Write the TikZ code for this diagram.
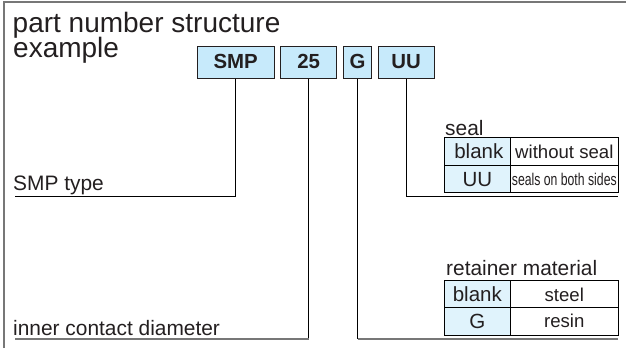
\documentclass[tikz,border=0pt]{standalone}
\usepackage{fontspec}
\usepackage{graphicx}
\setmainfont{Liberation Sans}
\definecolor{ink}{HTML}{231F20}
\definecolor{framegray}{HTML}{777777}
\definecolor{keyblue}{HTML}{C7EAFB}
\definecolor{cellblue}{HTML}{E0F3FC}
\newcommand{\fs}[1]{\fontsize{#1bp}{#1bp}\selectfont}
\tikzset{
  x=1bp,y=-1bp,
  txt/.style={anchor=base west,inner sep=0,text=ink,font=\fs{20.9}},
  keybox/.style={draw=ink,line width=0.8bp,fill=keyblue,inner sep=0,minimum height=31.6bp,text height=11.6bp,text depth=0pt,text=ink,font=\bfseries\fs{20.4}},
  cell/.style={draw=black,line width=0.9bp,inner sep=0,minimum height=27.7bp,text height=14.2bp,text depth=0pt,text=ink,font=\fs{20.5}},
  keycell/.style={cell,fill=cellblue,minimum width=66bp},
  valcell/.style={cell,fill=white,minimum width=108bp,font=\fs{18.6}},
  wire/.style={draw=black,line width=0.9bp},
  baseline wire/.style={draw=framegray,line width=1.5bp},
  frameline/.style={draw=framegray,line width=1.4bp}
}
\begin{document}
\begin{tikzpicture}
\useasboundingbox (0,0) rectangle (626,348);
\coordinate (fa) at (4,348);
\coordinate (fb) at (4,2);
\coordinate (fc) at (626,2);
\draw[frameline] (fa) -- (fb) -- (fc);

\node[txt,font=\fs{28}] (t1) at (12.5,32.5) {part number structure};
\node[txt,font=\fs{28}] (t2) at (13,57) {example};

\node[keybox,minimum width=76.7bp] (smp) at (235.65,62.5) {SMP};
\node[keybox,minimum width=56bp] (n25) at (308.7,62.5) {25};
\node[keybox,minimum width=28.4bp] (g) at (357.5,62.5) {G};
\node[keybox,minimum width=56bp] (uu) at (406,62.5) {UU};

\node[txt] (smptype) at (13,190) {SMP type};
\node[txt] (inner) at (13,335) {inner contact diameter};
\node[txt] (seal) at (445,135) {seal};
\node[txt] (ret) at (446,275) {retainer material};

\node[keycell] (s1) at (477.3,151.2) {\hspace{3bp}blank};
\node[valcell] (s2) at (564.3,151.2) {without seal};
\node[keycell] (s3) at (477.3,178.9) {UU\hspace{3bp}};
\node[valcell,text height=13.2bp,font=\fs{17}] (s4) at (564.3,178.9) {\scalebox{0.72}[1]{seals on both sides}};

\node[keycell] (r1) at (477.3,293.9) {blank};
\node[valcell] (r2) at (564.3,293.9) {steel};
\node[keycell] (r3) at (477.3,321.5) {G};
\node[valcell,text height=12.7bp] (r4) at (564.3,321.5) {resin};

\coordinate (e1) at (15,196);
\coordinate (e2) at (15,339);
\coordinate (e3) at (618,339);
\coordinate (e4) at (618,196);

\draw[wire] (smp.south) |- (e1);
\draw[wire] (n25.south) -- (n25.south |- e2);
\draw[baseline wire] (n25.south |- e2) -- (e2);
\draw[wire] (g.south) -- (g.south |- e3);
\draw[baseline wire] (g.south |- e3) -- (e3);
\draw[wire] (uu.south) |- (e4);
\end{tikzpicture}
\end{document}
